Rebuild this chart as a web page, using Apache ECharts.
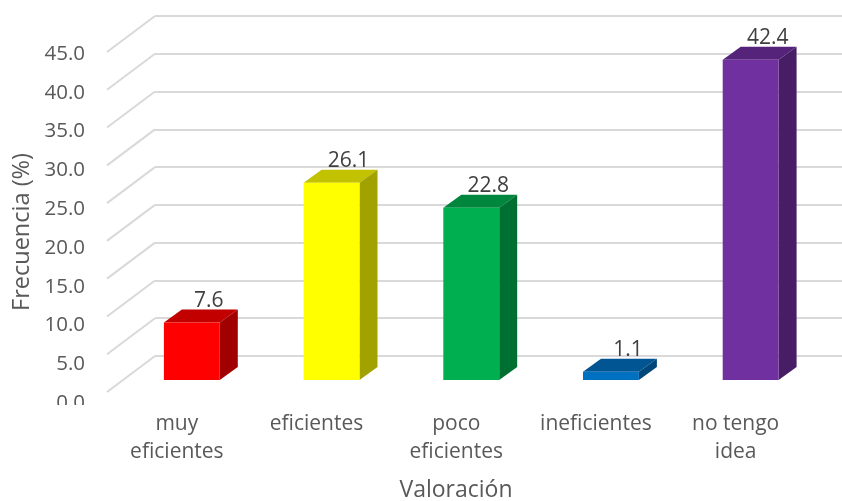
<!DOCTYPE html>
<html><head><meta charset="utf-8">
<style>html,body{margin:0;padding:0;background:#fff}#c{width:842px;height:501px}</style>
<script src="https://cdn.jsdelivr.net/npm/echarts@6/dist/echarts.min.js"></script>
</head><body><div id="c"></div>
<script>
const categories = ['muy\neficientes', 'eficientes', 'poco\neficientes', 'ineficientes', 'no tengo\nidea'];
const values = [7.6, 26.1, 22.8, 1.1, 42.4];
const barColors = ['#FF0000', '#FFFF00', '#00B050', '#0070C0', '#7030A0'];
const tickValues = [0, 5, 10, 15, 20, 25, 30, 35, 40, 45];
const yAxisTitle = 'Frecuencia (%)';
const xAxisTitle = 'Valoración';

const FONT = '"Open Sans", sans-serif';
const TEXT = '#595959', LABEL = '#404040', GRID = '#D9D9D9';
const DX = 18, DY = 13;

function shade(hex, f) {
  const n = parseInt(hex.slice(1), 16);
  const c = [(n >> 16) & 255, (n >> 8) & 255, n & 255].map(v => Math.round(v * f));
  return 'rgb(' + c.join(',') + ')';
}

const chart = echarts.init(document.getElementById('c'), null, {renderer: 'canvas'});

function renderBar(params, api) {
  const i = api.value(0), v = api.value(1);
  const top = api.coord([i, v]), base = api.coord([i, 0]);
  const w = api.size([1, 0])[0] * 0.4;
  const l = top[0] - w / 2, r = top[0] + w / 2, t = top[1], b = base[1];
  const col = barColors[i];
  return {
    type: 'group',
    children: [
      {type: 'text', style: {text: v.toFixed(1), x: top[0] + 17, y: t - 22, align: 'center', verticalAlign: 'middle',
        font: '21px ' + FONT, fill: LABEL}},
      {type: 'polygon', shape: {points: [[l, t], [r, t], [r + DX, t - DY], [l + DX, t - DY]]}, style: {fill: shade(col, 0.76)}},
      {type: 'polygon', shape: {points: [[r, t], [r + DX, t - DY], [r + DX, b - DY], [r, b]]}, style: {fill: shade(col, 0.63)}},
      {type: 'rect', shape: {x: l, y: t, width: w, height: b - t}, style: {fill: col}}
    ]
  };
}

function renderDiagonal(params, api) {
  const p = api.coord([0, api.value(0)]);
  const x0 = params.coordSys.x;
  return {type: 'line', shape: {x1: x0, y1: p[1], x2: x0 - 48, y2: p[1] + 36},
    style: {stroke: GRID, lineWidth: 2}};
}

chart.setOption({
  animation: false,
  backgroundColor: '#fff',
  grid: [
    {left: 107, width: 698.5, top: 54, height: 349},   // axis labels
    {left: 155, right: 0, top: 16, height: 340},       // back wall
    {left: 122, width: 698.5, top: 40, height: 340}    // bars
  ],
  xAxis: [
    {gridIndex: 0, type: 'category', data: categories, axisLine: {show: false}, axisTick: {show: false},
      axisLabel: {color: TEXT, fontFamily: FONT, fontSize: 21, lineHeight: 28, margin: 7, interval: 0}},
    {gridIndex: 1, type: 'category', data: categories, show: false},
    {gridIndex: 2, type: 'category', data: categories, show: false}
  ],
  yAxis: [
    {gridIndex: 0, type: 'value', min: 0, max: 45, interval: 5, axisLine: {show: false}, axisTick: {show: false},
      splitLine: {show: false},
      axisLabel: {color: TEXT, fontFamily: FONT, fontSize: 20.5, margin: 22, formatter: v => v.toFixed(1)}},
    {gridIndex: 1, type: 'value', min: 0, max: 45, interval: 5, axisLine: {show: false}, axisTick: {show: false},
      axisLabel: {show: false}, splitLine: {show: true, lineStyle: {color: GRID, width: 2}}},
    {gridIndex: 2, type: 'value', min: 0, max: 45, interval: 5, show: false}
  ],
  series: [
    {type: 'custom', xAxisIndex: 1, yAxisIndex: 1, silent: true, z: 1, renderItem: renderDiagonal,
      encode: {y: 0}, data: tickValues.map(v => [v])},
    {type: 'custom', xAxisIndex: 2, yAxisIndex: 2, z: 3, renderItem: renderBar,
      encode: {x: 0, y: 1}, data: values.map((v, i) => [i, v])}
  ],
  graphic: [
    {type: 'rect', z: 100, shape: {x: 40, y: 405, width: 60, height: 12}, style: {fill: '#fff'}},
    {type: 'text', z: 100, x: 22, y: 232, rotation: Math.PI / 2, originX: 0, originY: 0,
      style: {text: yAxisTitle, align: 'center', verticalAlign: 'middle', font: '23.5px ' + FONT, fill: TEXT}},
    {type: 'text', z: 100, x: 456, y: 490,
      style: {text: xAxisTitle, align: 'center', verticalAlign: 'middle', font: '23px ' + FONT, fill: TEXT}}
  ]
});
</script></body></html>
